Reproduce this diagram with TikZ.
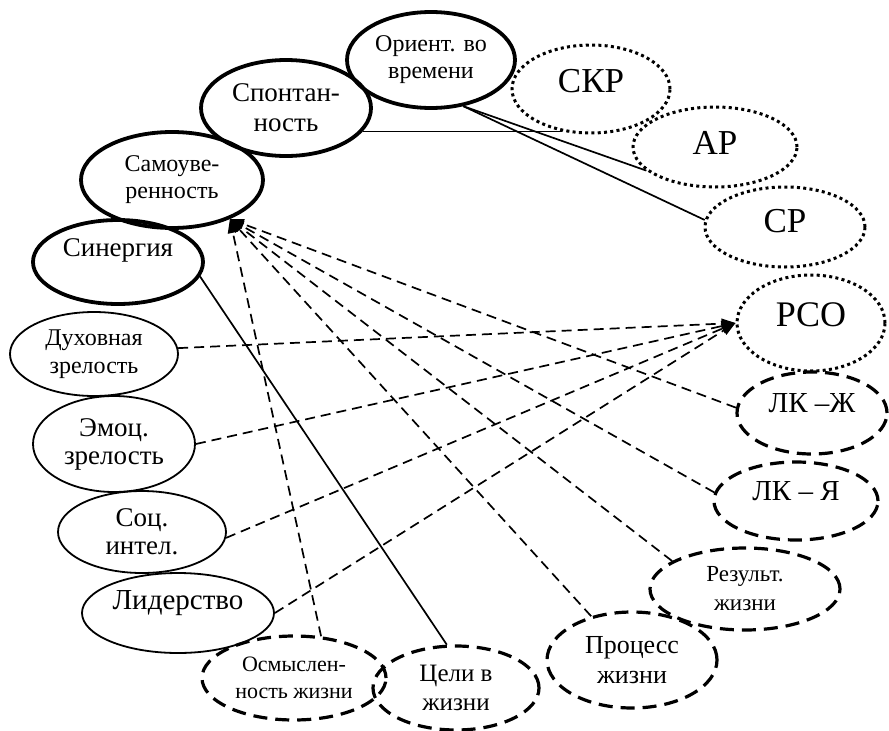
\documentclass[tikz,border=0pt]{standalone}
\usepackage{fontspec}
\setmainfont{Liberation Serif}
\usetikzlibrary{arrows.meta,shapes.geometric}
\newcommand{\liftup}[2]{\raisebox{#1}[\height][\depth]{#2}}
\begin{document}
\begin{tikzpicture}[x=1pt,y=-1pt,
 el/.style={ellipse, inner sep=0pt, align=center},
 thickel/.style={el, draw, line width=3.8pt},
 thinel/.style={el, draw, line width=1.8pt},
 dashel/.style={el, draw, line width=3.2pt, dash pattern=on 14pt off 8pt},
 dotel/.style={el, draw, line width=3pt, dash pattern=on 3pt off 3.3pt},
 conn/.style={line width=1.7pt},
 dconn/.style={conn, dash pattern=on 10pt off 6pt},
 arr/.style={-{Triangle[length=14pt,width=10pt]}}
]
\useasboundingbox (0,0) rectangle (889,731);

% thick solid
\node[thickel, minimum width=168pt, minimum height=96pt, font=\fontsize{24}{27}\selectfont] (orient) at (431,60) {Ориент. во\\времени};
\node[thickel, minimum width=170pt, minimum height=96pt, font=\fontsize{27}{30}\selectfont] (spont) at (286,108) {Спонтан-\\ность};
\node[thickel, minimum width=182pt, minimum height=96pt, font=\fontsize{24}{27}\selectfont] (samo) at (172,180) {Самоуве-\\ренность};
\node[thickel, minimum width=170pt, minimum height=84pt, font=\fontsize{27}{30}\selectfont] (syn) at (118,262) {\liftup{12pt}{Синергия}};

% thin solid
\node[thinel, minimum width=168pt, minimum height=84pt, font=\fontsize{24}{28}\selectfont] (dux) at (94,354) {Духовная\\зрелость};
\node[thinel, minimum width=162pt, minimum height=96pt, font=\fontsize{27}{28}\selectfont] (emo) at (114,444) {Эмоц.\\зрелость};
\node[thinel, minimum width=168pt, minimum height=82pt, font=\fontsize{27}{28}\selectfont] (soc) at (142,532) {Соц.\\интел.};
\node[thinel, minimum width=192pt, minimum height=80pt, font=\fontsize{29}{32}\selectfont] (lid) at (178,613) {\liftup{10pt}{Лидерство}};

% dashed
\node[dashel, minimum width=184pt, minimum height=84pt, font=\fontsize{22}{27}\selectfont] (osm) at (294,678) {Осмыслен-\\ность жизни};
\node[dashel, minimum width=166pt, minimum height=84pt, font=\fontsize{25}{29}\selectfont] (celi) at (456,688) {Цели в\\жизни};
\node[dashel, minimum width=170pt, minimum height=96pt, font=\fontsize{26}{30}\selectfont] (proc) at (632,660) {Процесс\\жизни};
\node[dashel, minimum width=190pt, minimum height=82pt, font=\fontsize{23}{29}\selectfont] (rez) at (745,589) {Результ.\\жизни};
\node[dashel, minimum width=164pt, minimum height=78pt, font=\fontsize{29}{32}\selectfont] (lkya) at (796,501) {\liftup{10pt}{ЛК – Я}};
\node[dashel, minimum width=150pt, minimum height=82pt, font=\fontsize{29}{32}\selectfont] (lkzh) at (812,413) {\liftup{10pt}{ЛК –Ж}};

% dotted
\node[dotel, minimum width=148pt, minimum height=96pt, font=\fontsize{36}{40}\selectfont] (rso) at (811,323) {\liftup{8pt}{РСО}};
\node[dotel, minimum width=160pt, minimum height=80pt, font=\fontsize{35}{40}\selectfont] (sr) at (785,227) {\liftup{6pt}{СР}};
\node[dotel, minimum width=164pt, minimum height=80pt, font=\fontsize{35}{40}\selectfont] (ar) at (715,147) {\liftup{4pt}{АР}};
\node[dotel, minimum width=158pt, minimum height=88pt, font=\fontsize{35}{40}\selectfont] (skr) at (591,89) {\liftup{8pt}{СКР}};

% solid connectors
\draw[conn] (spont.-17.5) -- (spont.-17.5 -| skr.-124);
\draw[conn] (orient.-55) -- (ar.-161);
\draw[conn] (orient.-55) -- (sr.175);
\draw[conn] (syn.-10) -- (celi.102);

% dashed arrows to Самоуверенность
\draw[dconn,arr] (osm.57) -- (samo.-34);
\draw[dconn,arr] (proc.133) -- (samo.-34);
\draw[dconn,arr] (rez.159) -- (samo.-34);
\draw[dconn,arr] (lkya.174) -- (samo.-34);
\draw[dconn,arr] (lkzh.176) -- (samo.-34);

% dashed arrows to РСО
\draw[dconn,arr] (dux.4) -- (rso.west);
\draw[dconn,arr] (emo.east) -- (rso.west);
\draw[dconn,arr] (soc.-4) -- (rso.west);
\draw[dconn,arr] (lid.east) -- (rso.west);
\end{tikzpicture}
\end{document}
